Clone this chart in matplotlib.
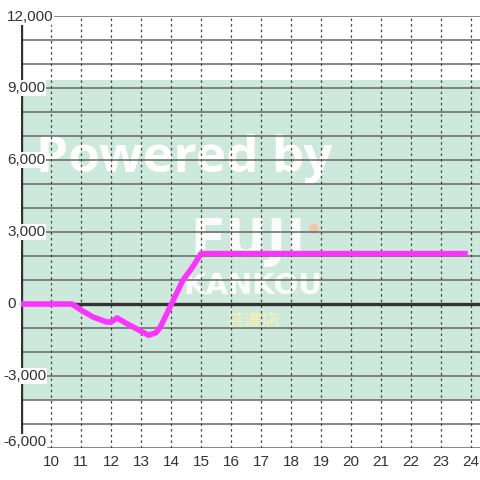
import matplotlib.pyplot as plt
from matplotlib.patches import Circle
from matplotlib.transforms import blended_transform_factory

plt.rcParams['font.family'] = ['Liberation Sans', 'DejaVu Sans']

# hours and value
hours = [9.0, 10.7, 11.0, 11.4, 11.85, 12.0, 12.2, 12.5, 13.25, 13.5, 13.65,
         14.4, 14.7, 15.0, 23.8]
values = [0, 0, -250, -540, -750, -750, -580, -800, -1300, -1200, -950,
          1000, 1500, 2100, 2100]

x_ticks = list(range(10, 25))
y_ticks = [12000, 9000, 6000, 3000, 0, -3000, -6000]
y_labels = ["12,000", "9,000", "6,000", "3,000", "0", "-3,000", "-6,000"]
band = (-4000, 9333)

fig = plt.figure(figsize=(4.8, 4.8), dpi=100)
ax = fig.add_axes([21 / 480, 32 / 480, 459 / 480, 432 / 480])
ax.set_xlim(9, 24.3)
ax.set_ylim(-6000, 12000)

for s in ax.spines.values():
    s.set_visible(False)

ax.axhspan(band[0], band[1], color="#cde9db", zorder=0, lw=0)

# watermark, under the grid
ft = fig.transFigure
ax.text(184 / 480, 1 - 172 / 480, "Powered by", color="white", fontsize=37,
        fontweight="bold", family=["Open Sans", "DejaVu Sans"],
        ha="center", va="baseline", transform=ft, zorder=1)
ax.text(248 / 480, 1 - 256 / 480, "FUJI", color="white", fontsize=37,
        fontweight="bold", family=["DejaVu Sans"],
        ha="center", va="baseline", alpha=0.92, transform=ft, zorder=1)
ax.text(253 / 480, 1 - 294 / 480, "KANKOU", color="white", fontsize=21,
        fontweight="bold", family=["DejaVu Sans"],
        ha="center", va="baseline", alpha=0.92, transform=ft, zorder=1)
ax.text(253 / 480, 1 - 326 / 480, "芸濃店", color="#f4f3ad", fontsize=13,
        family=["Noto Sans CJK JP", "DejaVu Sans"],
        ha="center", va="baseline", transform=ft, zorder=1)
ax.add_patch(Circle((314 / 480, 1 - 229 / 480), 5 / 480, transform=ft,
                    color="#f7c3a0", alpha=0.85, zorder=1, lw=0))

# grid
for yv in range(-6000, 12001, 1000):
    ax.axhline(yv, color="#666666", lw=1.1, zorder=2)
for xv in x_ticks:
    ax.axvline(xv, color="#444444", lw=0.9, ls=(0, (2, 2.5)), zorder=2)
ax.axhline(0, color="#333333", lw=2.4, zorder=3)
ax.plot([9, 9], [-5500, 11667], color="#333333", lw=2.4, zorder=3,
        solid_capstyle="butt")

ax.plot(hours, values, color="#ff33ff", lw=4, zorder=5,
        solid_joinstyle="round")

ax.set_xticks(x_ticks)
ax.set_xticklabels([str(v) for v in x_ticks])
ax.set_yticks([])
ax.tick_params(axis="x", length=0, pad=5, labelsize=11, labelcolor="#333333")

ytrans = blended_transform_factory(fig.transFigure, ax.transData)
for yv, lab in zip(y_ticks, y_labels):
    pos = yv
    if yv == -6000:
        pos = -5750
    elif yv == 12000:
        pos = 11950
    xoff = 3 if lab.startswith("-") else 7
    ax.text(xoff / 480, pos, lab, transform=ytrans,
            fontsize=11, color="#333333", ha="left", va="center", zorder=4,
            bbox=dict(facecolor="white", edgecolor="none", pad=0.5))

fig.savefig("out.png", dpi=100)
